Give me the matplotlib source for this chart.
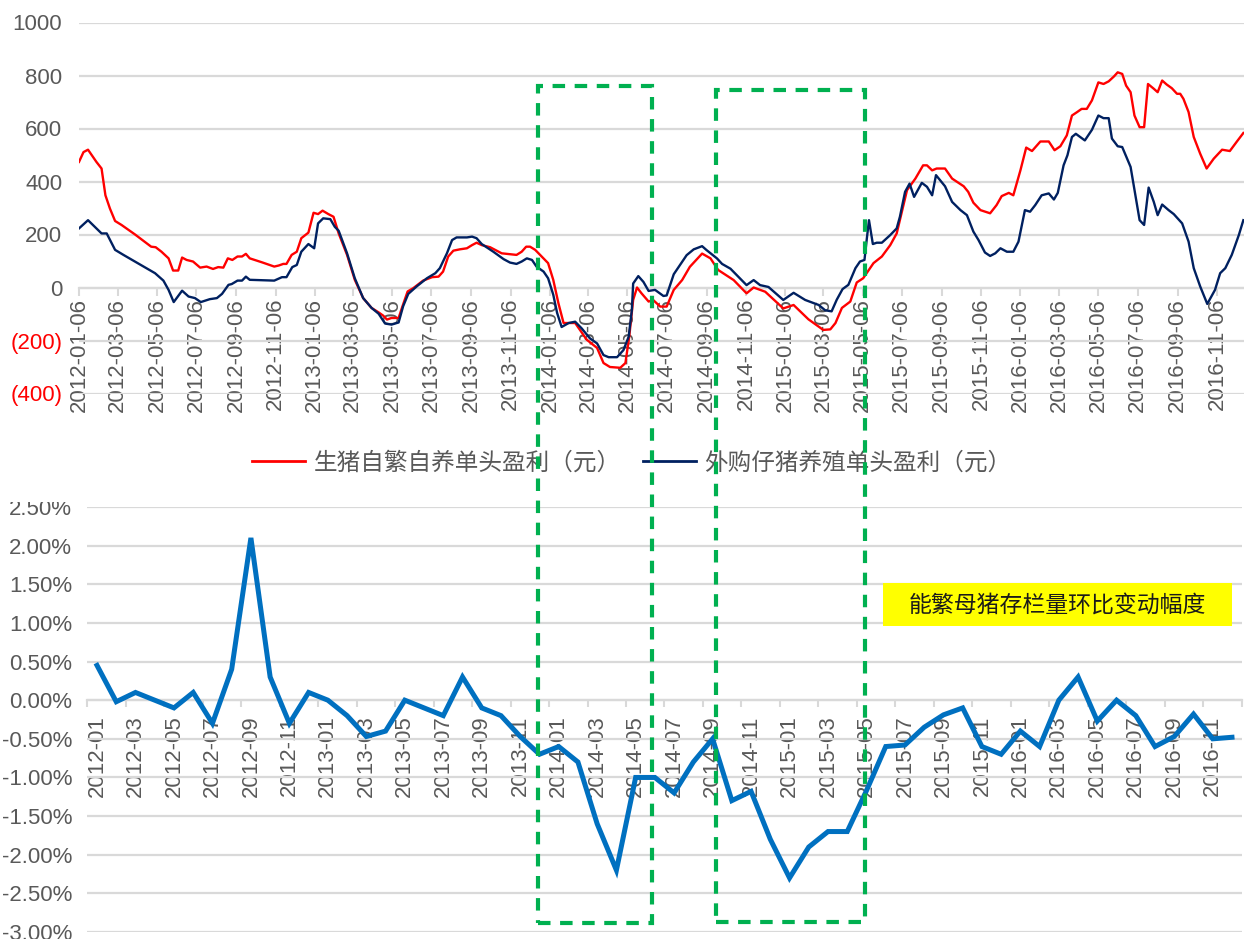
import matplotlib
matplotlib.use("Agg")
import matplotlib.pyplot as plt
from matplotlib.patches import Rectangle
from matplotlib.lines import Line2D
import pandas as pd

plt.rcParams['font.family'] = ['Liberation Sans', 'Noto Sans CJK SC', 'DejaVu Sans']

# ---------------- data ----------------
START = pd.Timestamp('2012-01-06')

# profit per head, self-bred pigs (days since 2012-01-06, yuan)
red_days = [0, 7, 14, 20, 27, 35, 41, 48, 56, 66, 87, 112, 119, 128, 139, 146, 154, 160, 167, 177,
            188, 198, 208, 216, 224, 231, 238, 246, 253, 259, 265, 284, 303, 310, 317, 322, 330, 338,
            345, 356, 364, 371, 378, 387, 395, 403, 416, 428, 441, 454, 465, 472, 478, 485, 496, 502,
            510, 519, 534, 548, 558, 565, 573, 581, 591, 602, 610, 617, 625, 638, 656, 679, 687, 694,
            700, 708, 718, 728, 736, 744, 752, 770, 788, 804, 814, 824, 840, 848, 854, 860, 866, 873,
            884, 891, 902, 912, 923, 936, 948, 967, 980, 992, 1016, 1036, 1047, 1065, 1093, 1109, 1132,
            1155, 1166, 1174, 1184, 1197, 1207, 1217, 1233, 1246, 1259, 1269, 1277, 1285, 1298, 1310,
            1316, 1324, 1331, 1344, 1355, 1373, 1380, 1388, 1399, 1414, 1424, 1432, 1443, 1450, 1461,
            1470, 1479, 1492, 1505, 1514, 1523, 1533, 1541, 1549, 1556, 1564, 1572, 1582, 1590, 1598,
            1606, 1612, 1619, 1625, 1632, 1638, 1646, 1653, 1659, 1668, 1674, 1681, 1688, 1696, 1704,
            1709, 1714, 1722, 1730, 1740, 1750, 1761, 1774, 1786, 1797, 1807]
red_vals = [474, 511, 520, 499, 474, 449, 348, 298, 251, 236, 200, 154, 152, 135, 110, 64, 64, 113, 104, 98,
            75, 79, 70, 77, 75, 110, 104, 117, 117, 127, 110, 95, 79, 83, 89, 89, 123, 135,
            186, 207, 282, 277, 290, 277, 267, 204, 123, 29, -40, -77, -94, -106, -121, -115, -115, -71,
            -15, -2, 26, 39, 41, 60, 117, 139, 144, 148, 160, 169, 160, 152, 129, 123, 135, 154,
            154, 142, 117, 92, 29, -59, -134, -134, -197, -228, -285, -300, -303, -285, -184, -47, 0, -22,
            -53, -47, -72, -72, -9, 28, 78, 128, 110, 66, 28, -22, 0, -16, -79, -66, -120,
            -160, -158, -134, -77, -53, 19, 35, 92, 117, 160, 204, 286, 367, 411, 461,
            461, 442, 449, 449, 411, 382, 361, 320, 292, 280, 311, 345, 357, 348, 442,
            528, 515, 551, 551, 518, 533, 574, 649, 662, 674, 674, 706, 774, 768, 778,
            796, 812, 806, 762, 737, 649, 605, 605, 768, 750, 737, 781, 766, 752, 731,
            731, 712, 662, 568, 505, 449, 486, 520, 515, 551, 583]

# profit per head, purchased piglets (days since 2012-01-06, yuan)
navy_days = [0, 14, 35, 43, 56, 69, 118, 131, 139, 147, 160, 170, 180, 189, 203, 214, 222, 232, 237, 246,
             253, 259, 265, 303, 315, 322, 331, 338, 345, 356, 365, 371, 379, 390, 397, 403, 416, 428,
             441, 454, 465, 475, 485, 496, 503, 511, 524, 540, 553, 560, 571, 579, 586, 602, 610, 617,
             625, 643, 659, 669, 679, 687, 695, 703, 710, 721, 728, 736, 742, 749, 760, 770, 780, 793,
             804, 814, 822, 835, 845, 853, 858, 860, 868, 876, 884, 894, 907, 912, 923, 933, 943, 954,
             967, 974, 990, 998, 1011, 1026, 1036, 1047, 1057, 1070, 1093, 1109, 1127, 1148, 1158, 1168,
             1176, 1185, 1194, 1205, 1212, 1219, 1223, 1226, 1232, 1238, 1246, 1259, 1269, 1274, 1282,
             1289, 1296, 1308, 1316, 1324, 1330, 1344, 1355, 1368, 1378, 1388, 1396, 1406, 1414, 1422,
             1430, 1440, 1450, 1458, 1468, 1476, 1484, 1494, 1505, 1513, 1519, 1528, 1534, 1541, 1547,
             1561, 1572, 1582, 1590, 1598, 1603, 1612, 1619, 1632, 1639, 1646, 1653, 1660, 1668, 1674,
             1681, 1691, 1699, 1712, 1722, 1730, 1740, 1751, 1763, 1771, 1779, 1789, 1800, 1807]
navy_vals = [223, 254, 204, 204, 142, 123, 54, 26, -9, -55, -12, -34, -40, -55, -44, -40, -24, 10, 13, 26,
             26, 41, 29, 26, 39, 39, 77, 85, 135, 164, 148, 242, 261, 258, 229, 214, 129, 35,
             -40, -77, -99, -136, -140, -132, -71, -24, 4, 35, 54, 73, 129, 179, 189, 189, 192, 186,
             164, 135, 107, 94, 89, 98, 110, 104, 79, 60, 35, -27, -96, -149, -134, -129, -154, -192,
             -211, -255, -263, -263, -236, -186, -85, 15, 43, 21, -13, -9, -32, -30, 50, 86, 122, 144,
             156, 141, 110, 89, 71, 34, 9, 28, 9, 2, -47, -20, -47, -66, -86, -90,
             -46, -6, 10, 73, 98, 104, 192, 254, 164, 169, 169, 198, 223, 267, 361,
             392, 342, 395, 380, 348, 424, 382, 323, 292, 273, 211, 179, 132, 119, 129,
             148, 135, 135, 173, 292, 286, 311, 348, 355, 332, 357, 461, 499, 568, 580,
             555, 595, 649, 639, 639, 562, 533, 530, 455, 355, 254, 236, 377, 323, 273,
             313, 292, 277, 242, 173, 73, 4, -62, -9, 54, 73, 123, 198, 254]

# month-on-month change of breeding sow inventory (%)
sow_months = [str(p) for p in pd.period_range('2012-01', '2016-12', freq='M')]
sow_change = [0.45, -0.02, 0.10, 0.00, -0.10, 0.10, -0.30, 0.40, 2.10, 0.30, -0.30, 0.10,
              0.00, -0.20, -0.47, -0.40, 0.00, -0.10, -0.20, 0.30, -0.10, -0.20, -0.47, -0.70,
              -0.60, -0.80, -1.60, -2.20, -1.00, -1.00, -1.20, -0.80, -0.50, -1.30, -1.18, -1.80,
              -2.30, -1.90, -1.70, -1.70, -1.17, -0.60, -0.58, -0.35, -0.19, -0.10, -0.60, -0.70,
              -0.40, -0.60, 0.00, 0.30, -0.27, 0.00, -0.20, -0.60, -0.47, -0.18, -0.50, -0.48]

red_label = '生猪自繁自养单头盈利（元）'
navy_label = '外购仔猪养殖单头盈利（元）'
box_label = '能繁母猪存栏量环比变动幅度'

# ---------------- style ----------------
W, H = 1244, 939
GRID = '#d9d9d9'
TXT = '#595959'
RED = '#ff0000'
NAVY = '#002060'
BLUE = '#0070c0'
GREEN = '#00b050'
FS = 16

fig = plt.figure(figsize=(W / 100, H / 100), dpi=100)


def fx(px):
    return px / W


def fy(py):
    return 1 - py / H


# ---------------- top panel: profit per head ----------------
ax1 = fig.add_axes([fx(79), fy(393.5), fx(1244 - 79), (393.5 - 22.5) / H])
red_dates = START + pd.to_timedelta(red_days, unit='D')
navy_dates = START + pd.to_timedelta(navy_days, unit='D')
ax1.plot(red_dates, red_vals, color=RED, lw=1.7, zorder=3, label=red_label)
ax1.plot(navy_dates, navy_vals, color=NAVY, lw=1.7, zorder=3, label=navy_label)

ax1.set_ylim(-400, 1000)
ax1.set_xlim(START, START + pd.Timedelta(days=1808))
yt = list(range(-400, 1001, 200))
ax1.set_yticks(yt)
ax1.set_yticklabels([f'({-v})' if v < 0 else str(v) for v in yt])
for lbl, v in zip(ax1.get_yticklabels(), yt):
    lbl.set_color(RED if v < 0 else TXT)
ax1.tick_params(axis='y', length=0, pad=12, labelsize=FS)
ax1.grid(axis='y', color=GRID, lw=1.6, zorder=0)
ax1.set_axisbelow(True)

xt = pd.date_range('2012-01-06', '2016-11-06', freq=pd.DateOffset(months=2))
ax1.set_xticks(xt)
ax1.set_xticklabels([d.strftime('%Y-%m-%d') for d in xt])
ax1.tick_params(axis='x', length=6, width=1.5, color=GRID, pad=1.5, labelsize=FS,
                labelcolor=TXT, labelrotation=90)
for s in ['top', 'right', 'left']:
    ax1.spines[s].set_visible(False)
ax1.spines['bottom'].set_position(('data', 0))
ax1.spines['bottom'].set_color(GRID)
ax1.spines['bottom'].set_linewidth(1.6)

fig.legend(handles=[Line2D([], [], color=RED, lw=2), Line2D([], [], color=NAVY, lw=2)],
           labels=[red_label, navy_label], loc='center', bbox_to_anchor=(fx(632), fy(463)),
           ncol=2, frameon=False, fontsize=17, labelcolor=TXT, handlelength=2.25,
           handletextpad=0.35, columnspacing=0.95)

# ---------------- bottom panel: sow inventory change ----------------
ax2 = fig.add_axes([fx(87.4), fy(932), fx(1241.6 - 87.4), (932 - 507) / H])
xi = list(range(len(sow_months)))
ax2.plot(xi, sow_change, color=BLUE, lw=3.6, zorder=3, solid_joinstyle='miter')
ax2.set_xlim(-0.5, len(sow_months) - 0.5)
ax2.set_ylim(-3.0, 2.5)
pt = [-3.0 + 0.5 * k for k in range(12)]
ax2.set_yticks(pt)
ax2.set_yticklabels([f'{v:.2f}%' for v in pt])
ax2.tick_params(axis='y', length=0, pad=11, labelsize=FS, labelcolor=TXT)
ax2.grid(axis='y', color=GRID, lw=1.6, zorder=0)
ax2.set_axisbelow(True)

ax2.set_xticks(xi[::2])
ax2.set_xticklabels(sow_months[::2])
ax2.set_xticks([k - 0.5 for k in range(0, len(sow_months) + 1, 2)], minor=True)
ax2.tick_params(axis='x', which='major', length=0, pad=11, labelsize=FS, labelcolor=TXT,
                labelrotation=90)
ax2.tick_params(axis='x', which='minor', length=5, width=1.5, color=GRID)
for s in ['top', 'right', 'left']:
    ax2.spines[s].set_visible(False)
ax2.spines['bottom'].set_position(('data', 0))
ax2.spines['bottom'].set_color(GRID)
ax2.spines['bottom'].set_linewidth(1.6)

# label box
fig.add_artist(Rectangle((fx(883), fy(626)), fx(1232 - 883), (626 - 583) / H,
                         transform=fig.transFigure, facecolor='#ffff00', edgecolor='none', zorder=6))
fig.text(fx(1057.5), fy(605), box_label, ha='center', va='center', fontsize=16.5,
         color='#1a1a1a', family=['Noto Sans CJK SC', 'DejaVu Sans'], fontweight='light', zorder=7)

# white band trimming the top of the upper percentage label
fig.add_artist(Rectangle((0, fy(502)), fx(80), (502 - 482) / H, transform=fig.transFigure,
                         facecolor='white', edgecolor='none', zorder=8))

# highlighted periods (dashed frames spanning both panels)
for (x0, y0, x1, y1) in [(538, 86, 652, 922.5), (716, 90, 864.5, 921.5)]:
    fig.add_artist(Rectangle((fx(x0), fy(y1)), fx(x1 - x0), (y1 - y0) / H,
                             transform=fig.transFigure, facecolor='none', edgecolor=GREEN,
                             lw=3, linestyle=(0, (3, 2.3)), zorder=10))

fig.savefig('out.png', dpi=100)
